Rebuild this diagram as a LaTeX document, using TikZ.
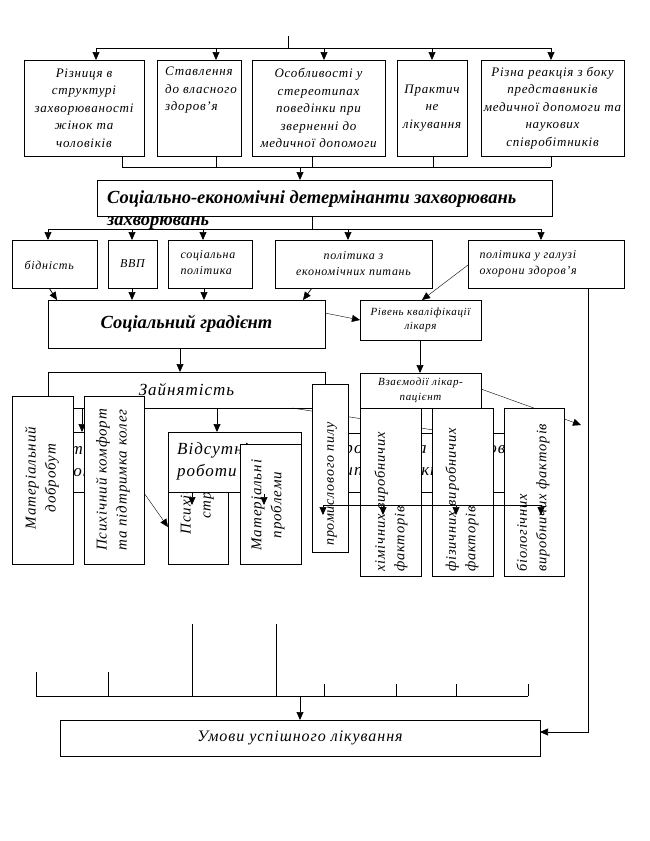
\documentclass[tikz,border=0pt]{standalone}
\usepackage{fontspec}
\setmainfont{Liberation Serif}
\newfontfamily\rf[LetterSpace=6]{Liberation Serif}
\usetikzlibrary{arrows.meta}
\newcommand{\fz}[2]{\fontsize{#1}{#2}\selectfont}
\begin{document}
\begin{tikzpicture}[x=1pt,y=-1pt,
 box/.style={draw, line width=0.7pt, fill=white, inner sep=0pt, outer sep=0pt, anchor=north west},
 ln/.style={line width=0.7pt},
 arr/.style={line width=0.7pt, -{Triangle[length=8pt,width=7pt]}},
 tarr/.style={line width=0.4pt, -{Triangle[length=8pt,width=7pt]}},
 tln/.style={line width=0.4pt},
 tx/.style={font={\rf\itshape\fz{13}{17.5}}, align=center},
 ts/.style={font={\rf\itshape\fz{12}{16}}},
 tk/.style={font={\rf\itshape\fz{11}{14.5}}, align=center},
 tb/.style={font={\bfseries\itshape\fz{18.5}{22}}, inner sep=0pt},
 tl/.style={font={\rf\itshape\fz{17}{22}}, align=left, inner sep=0pt},
 tr/.style={font={\rf\itshape\fz{15}{20}}, align=center, rotate=90, inner sep=0pt},
 tf/.style={font={\rf\itshape\fz{14.5}{19.5}}, align=left, rotate=90, anchor=west, inner sep=0pt}
]
\useasboundingbox (0,0) rectangle (649,841);

% ---------- top row ----------
\coordinate (t0) at (288,36);
\coordinate (t1) at (288,48);
\coordinate (tl) at (96,48);
\coordinate (trr) at (551,48);
\node[box, minimum width=120pt, minimum height=96pt, tx] (b1) at (24,60) {Різниця в\\структурі\\захворюваності\\жінок та\\чоловіків};
\node[box, minimum width=84pt, minimum height=96pt] (b2) at (157,60) {};
\node[tx, align=left, anchor=north west, inner sep=0pt] (b2t) at (165,67) {Ставлення\\до власного\\здоров’я};
\node[box, minimum width=133pt, minimum height=96pt, tx] (b3) at (252,60) {Особливості у\\стереотипах\\поведінки при\\зверненні до\\медичної допомоги};
\node[box, minimum width=70pt, minimum height=96pt, tx] (b4) at (397,60) {Практич\\не\\лікування};
\node[box, minimum width=143pt, minimum height=96pt, tx] (b5) at (481,60) {Різна реакція з боку\\представників\\медичної допомоги та\\наукових\\співробітників};
\draw[ln] (t0) -- (t1);
\draw[ln] (tl) -- (trr);
\foreach \xx/\bb in {96/b1,216/b2,324/b3,432/b4,551/b5}
  \draw[arr] (t1 -| \xx,0) -- (\bb.north -| \xx,0);

% collector below top row
\coordinate (cl) at (122,167);
\coordinate (cr) at (551,167);
\foreach \xx/\bb in {122/b1,216/b2,312/b3,433/b4,551/b5}
  \draw[ln] (\bb.south -| \xx,0) -- (cl -| \xx,0);
\draw[ln] (cl) -- (cr);

% ---------- determinants ----------
\node[box, minimum width=455pt, minimum height=36pt] (B) at (97,180) {};
\draw[arr] (cl -| 300,0) -- (B.north -| 300,0);
\node[tb, anchor=base west] (Bt1) at (107,203) {Соціально-економічні детермінанти захворювань};
\node[tb, anchor=base west] (Bt2) at (107,225) {захворювань};

\coordinate (dl) at (48,229);
\coordinate (dr) at (541,229);
\draw[ln] (B.south -| 312,0) -- (dl -| 312,0);
\draw[ln] (dl) -- (dr);

\node[box, minimum width=85pt, minimum height=48pt] (r1) at (12,240) {};
\node[ts, anchor=west] (r1t) at (21,265) {бідність};
\node[box, minimum width=49pt, minimum height=48pt, ts] (r2) at (108,240) {ВВП};
\node[box, minimum width=84pt, minimum height=48pt] (r3) at (168,240) {};
\node[ts, anchor=west, align=left] (r3t) at (177,263) {соціальна\\політика};
\node[box, minimum width=157pt, minimum height=48pt, ts, align=center] (r4) at (275,240) {політика з\\економічних питань};
\node[box, minimum width=156pt, minimum height=48pt] (r5) at (468,240) {};
\node[ts, anchor=west, align=left] (r5t) at (476,264) {політика у галузі\\охорони здоров’я};
\foreach \xx/\bb in {48/r1,132/r2,203/r3,348/r4,541/r5}
  \draw[arr] (dl -| \xx,0) -- (\bb.north -| \xx,0);

% ---------- gradient ----------
\node[box, minimum width=277pt, minimum height=48pt, tb] (SG) at (48,300) {Соціальний градієнт};
\draw[arr] (r1.south -| 49,0) -- (SG.north -| 57,0);
\draw[arr] (r2.south -| 132,0) -- (SG.north -| 132,0);
\draw[arr] (r3.south -| 204,0) -- (SG.north -| 204,0);
\draw[arr] (r4.south -| 312,0) -- (SG.north -| 303,0);

\node[box, minimum width=121pt, minimum height=40pt, tk] (RK) at (360,300) {Рівень кваліфікації\\лікаря};
\draw[tarr] (r5.west |- 0,265) -- (RK.north -| 422,0);
\draw[tarr] (SG.east |- 0,313) -- (RK.west |- 0,320);

\node[box, minimum width=480pt, minimum height=36pt, font={\rf\itshape\fz{16}{18}}] (UM) at (60,720) {Умови успішного лікування};
\draw[arr] (r5.south -| 588,0) |- (UM.east |- 0,732);

% ---------- employment ----------
\node[box, minimum width=277pt, minimum height=36pt, font={\rf\itshape\fz{17}{20}}] (ZA) at (48,372) {Зайнятість};
\draw[arr] (SG.south -| 180,0) -- (ZA.north -| 180,0);
\node[box, minimum width=121pt, minimum height=35pt, tk] (VL) at (360,373) {Взаємодії лікар-\\пацієнт};
\draw[arr] (RK.south -| 420,0) -- (VL.north -| 420,0);
\coordinate (vx) at (581,425);
\draw[tarr] (VL.east |- 0,389) -- (vx);
\coordinate (sl) at (440,431);
\draw[tln] (ZA.south -| 292,0) -- (sl);

\node[box, minimum width=122pt, minimum height=60pt, tl, align=center] (HL) at (14,432) {Присутність\\роботи};
\draw[arr] (ZA.south -| 82,0) -- (HL.north -| 82,0);

\node[box, minimum width=61pt, minimum height=168pt] (MD) at (12,396) {};
\node[tr] (MDt) at (42,478) {Матеріальний\\добробут};
\node[box, minimum width=60pt, minimum height=168pt] (PK) at (84,396) {};
\node[tr] (PKt) at (113,480) {Психічний комфорт\\та підтримка колег};

\node[box, minimum width=60pt, minimum height=132pt] (PS) at (168,432) {};
\node[tr] (PSt) at (197,498) {Психічний\\стрес};
\node[box, minimum width=133pt, minimum height=60pt] (VR) at (168,432) {};
\node[tl, anchor=west] (VRt) at (177,461) {Відсутність\\роботи};
\draw[arr] (ZA.south -| 217,0) -- (VR.north -| 217,0);
\node[box, minimum width=61pt, minimum height=120pt] (MP) at (240,444) {};
\node[tr] (MPt) at (268,505) {Матеріальні\\проблеми};
\draw[tarr] (PK.east |- 0,493) -- (PS.west |- 0,527);
\draw[arr] (VR.south -| 192,0) -- (192,505);
\draw[arr] (264,494) -- (264,505);

\node[box, minimum width=225pt, minimum height=59pt] (HR) at (320,433) {};
\node[tl, anchor=west] (HRt) at (331,460) {Професійна захворюваність\\типи за факторами};
\node[box, minimum width=36pt, minimum height=168pt] (PP) at (312,384) {};
\node[tf, font={\rf\itshape\fz{14}{18}}] (PPt) at (332,546) {промислового пилу};
\node[box, minimum width=61pt, minimum height=168pt] (XB) at (360,408) {};
\node[tf] (XBt) at (391,572) {хімічних виробничих\\факторів};
\node[box, minimum width=61pt, minimum height=168pt] (FB) at (432,408) {};
\node[tf] (FBt) at (462,572) {фізичних виробничих\\факторів};
\node[box, minimum width=60pt, minimum height=168pt] (BB) at (504,408) {};
\node[tf] (BBt) at (533,572) {біологічних\\виробничих факторів};

\coordinate (hl) at (323,505);
\coordinate (hr) at (541,505);
\draw[ln] (hl) -- (hr);
\foreach \xx in {323,383,456,541}
  \draw[arr] (hl -| \xx,0) -- (\xx,515);

% ---------- bottom ----------
\coordinate (bl) at (36,696);
\coordinate (br) at (528,696);
\draw[ln] (bl) -- (br);
\foreach \xx/\yy in {36/672,108/672,192/624,276/624,324/684,396/684,456/684,528/684}
  \draw[ln] (\xx,\yy) -- (bl -| \xx,0);
\draw[arr] (bl -| 300,0) -- (UM.north -| 300,0);
\end{tikzpicture}
\end{document}
